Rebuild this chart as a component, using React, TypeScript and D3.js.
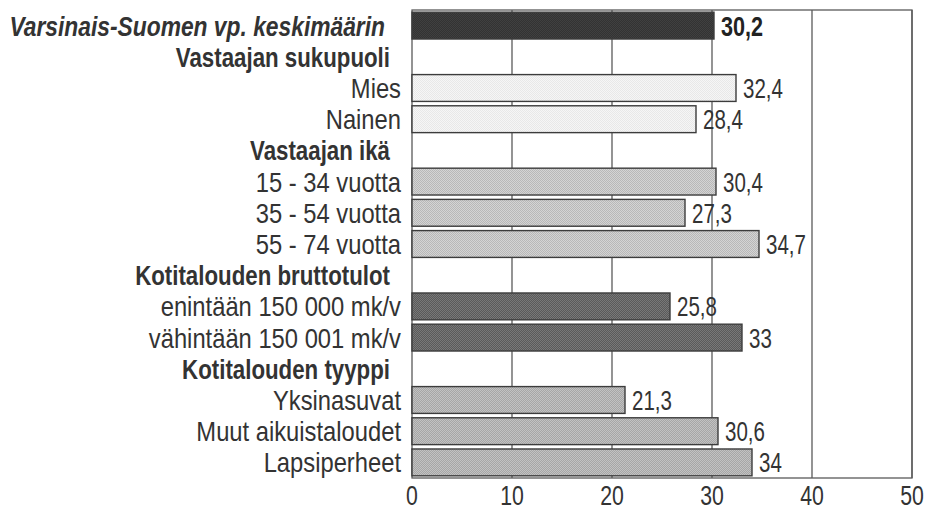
import React from "react";
import * as d3 from "d3";

const categories = [
  "Varsinais-Suomen vp. keskimäärin",
  "Vastaajan sukupuoli",
  "Mies",
  "Nainen",
  "Vastaajan ikä",
  "15 - 34 vuotta",
  "35 - 54 vuotta",
  "55 - 74 vuotta",
  "Kotitalouden bruttotulot",
  "enintään 150 000 mk/v",
  "vähintään 150 001 mk/v",
  "Kotitalouden tyyppi",
  "Yksinasuvat",
  "Muut aikuistaloudet",
  "Lapsiperheet",
];
// null = group header row
const values: (number | null)[] = [30.2, null, 32.4, 28.4, null, 30.4, 27.3, 34.7, null, 25.8, 33, null, 21.3, 30.6, 34];
const valueLabels = ["30,2", "", "32,4", "28,4", "", "30,4", "27,3", "34,7", "", "25,8", "33", "", "21,3", "30,6", "34"];
const groups = ["total", "header", "gender", "gender", "header", "age", "age", "age", "header", "income", "income", "header", "type", "type", "type"];
const ticks = [0, 10, 20, 30, 40, 50];

const W = 926, H = 512;
const FONT = "'Liberation Sans', Arial, sans-serif";
const TEXT = "#333333";

const patterns: Record<string, [string, string]> = {
  total: ["#333333", "#404040"],
  gender: ["#f6f6f6", "#e8e8e8"],
  age: ["#d4d4d4", "#b8b8b8"],
  income: ["#5a5a5a", "#787878"],
  type: ["#a6a6a6", "#c2c2c2"],
};

function SText(props: {
  x: number; y: number; sx: number; size: number; anchor?: string; weight?: string; italic?: boolean; fill?: string; children: React.ReactNode;
}) {
  const { x, y, sx, size, anchor = "start", weight = "normal", italic = false, fill = TEXT, children } = props;
  return (
    <text
      transform={`translate(${x},${y}) scale(${sx},1)`}
      textAnchor={anchor}
      fontFamily={FONT}
      fontSize={size}
      fontWeight={weight}
      fontStyle={italic ? "italic" : "normal"}
      fill={fill}
    >
      {children}
    </text>
  );
}

export default function App() {
  const x = d3.scaleLinear().domain([0, 50]).range([412, 912]);
  const y = d3.scaleBand<number>().domain(d3.range(categories.length)).range([10, 478]).paddingInner(0.14).paddingOuter(0.07);
  const bh = y.bandwidth();

  return (
    <svg width={W} height={H} style={{ position: "absolute", left: 0, top: 0, background: "#fff" }}>
      <defs>
        {Object.entries(patterns).map(([k, [a, b]]) => (
          <pattern key={k} id={`p-${k}`} width={2} height={2} patternUnits="userSpaceOnUse">
            <rect width={2} height={2} fill={a} />
            <rect width={1} height={1} fill={b} />
            <rect x={1} y={1} width={1} height={1} fill={b} />
          </pattern>
        ))}
      </defs>
      {/* gridlines */}
      {ticks.slice(1).map((t) => (
        <line key={t} x1={x(t)} x2={x(t)} y1={10} y2={478} stroke="#5a5a5a" strokeWidth={1.3} />
      ))}
      <rect x={x(0)} y={10} width={x(50) - x(0)} height={468} fill="none" stroke="#5a5a5a" strokeWidth={1.3} />
      {/* bars */}
      {values.map((v, i) =>
        v == null ? null : (
          <rect
            key={i}
            x={x(0)}
            y={y(i)!}
            width={x(v) - x(0)}
            height={bh}
            fill={`url(#p-${groups[i]})`}
            stroke="#3c3c3c"
            strokeWidth={1.4}
          />
        )
      )}
      {/* value labels */}
      {values.map((v, i) =>
        v == null ? null : (
          <SText
            key={i}
            x={x(v) + 7}
            y={y(i)! + bh / 2 + 10}
            sx={i === 0 ? 0.8 : 0.76}
            size={27}
            weight={i === 0 ? "bold" : "normal"}
            fill={i === 0 ? "#222" : TEXT}
          >
            {valueLabels[i]}
          </SText>
        )
      )}
      {/* category labels */}
      {categories.map((c, i) => {
        const isHeader = groups[i] === "header";
        const isTotal = groups[i] === "total";
        return (
          <SText
            key={i}
            x={isTotal ? 385 : isHeader ? 390 : 401}
            y={y(i)! + bh / 2 + 10}
            sx={isTotal ? 0.845 : isHeader ? 0.825 : 0.88}
            size={27}
            anchor="end"
            weight={isHeader || isTotal ? "bold" : "normal"}
            italic={isTotal}
          >
            {c}
          </SText>
        );
      })}
      {/* x tick labels */}
      {ticks.map((t) => (
        <SText key={t} x={x(t)} y={505} sx={0.76} size={28} anchor="middle">
          {t}
        </SText>
      ))}
    </svg>
  );
}
